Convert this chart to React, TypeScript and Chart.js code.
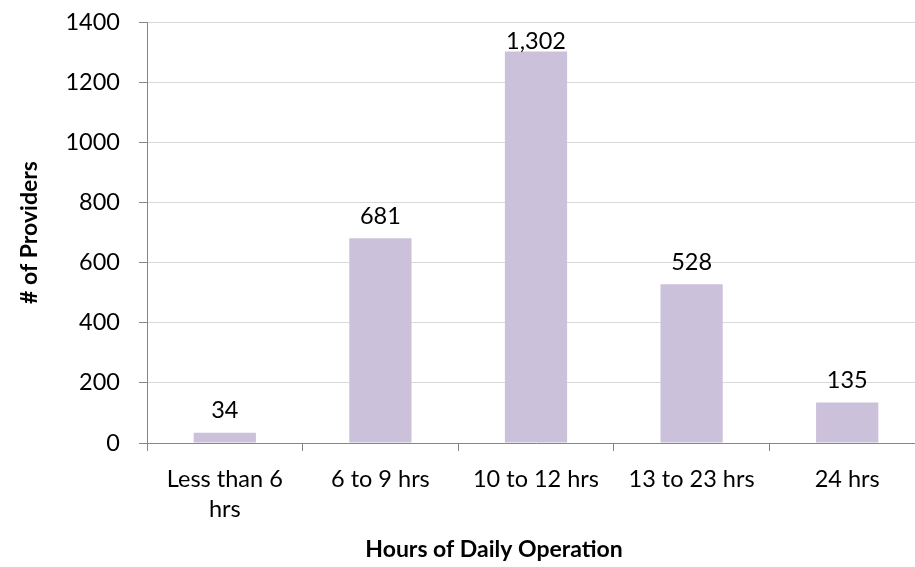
import React, { useEffect, useRef } from 'react';
import { Chart, registerables } from 'chart.js';

Chart.register(...registerables);

const categories: (string | string[])[] = [['Less than 6', 'hrs'], '6 to 9 hrs', '10 to 12 hrs', '13 to 23 hrs', '24 hrs'];
const providers = [34, 681, 1302, 528, 135];
const yMin = 0;
const yMax = 1400;
const yStep = 200;
const yTitle = '# of Providers';
const xTitle = 'Hours of Daily Operation';

const FONT = 'Lato, "Open Sans", sans-serif';
const TICK_SIZE = 23.5;
const TITLE_SIZE = 23;

const dataLabels = {
  id: 'dataLabels',
  afterDatasetsDraw(chart: any) {
    const { ctx, chartArea } = chart;
    const meta = chart.getDatasetMeta(0);
    ctx.save();
    ctx.font = `${TICK_SIZE}px ${FONT}`;
    ctx.fillStyle = '#000';
    ctx.textAlign = 'center';
    ctx.textBaseline = 'middle';
    meta.data.forEach((bar: any, i: number) => {
      const y = Math.max(bar.y - 22, chartArea.top + 19);
      ctx.fillText(providers[i].toLocaleString('en-US'), bar.x, y);
    });
    ctx.restore();
  },
};

const xTitlePlugin = {
  id: 'xTitlePlugin',
  afterDraw(chart: any) {
    const { ctx, chartArea } = chart;
    ctx.save();
    ctx.font = `bold ${TITLE_SIZE}px ${FONT}`;
    ctx.fillStyle = '#000';
    ctx.textAlign = 'center';
    ctx.textBaseline = 'middle';
    ctx.fillText(xTitle, 494, chartArea.bottom + 107);
    ctx.restore();
  },
};

export default function App() {
  const ref = useRef<HTMLCanvasElement | null>(null);
  useEffect(() => {
    if (!ref.current) return;
    const chart = new Chart(ref.current, {
      type: 'bar',
      data: {
        labels: categories,
        datasets: [
          {
            data: providers,
            backgroundColor: '#CCC1DA',
            borderWidth: 0,
            categoryPercentage: 1,
            barPercentage: 0.4,
          },
        ],
      },
      options: {
        responsive: false,
        animation: false,
        devicePixelRatio: 1,
        layout: { padding: { top: 22, left: 0, right: 0, bottom: 0 } },
        plugins: { legend: { display: false }, tooltip: { enabled: false } },
        scales: {
          x: {
            grid: { drawOnChartArea: false, drawTicks: true, tickLength: 8, color: '#868686', offset: true },
            border: { color: '#868686' },
            ticks: { font: { family: FONT, size: TICK_SIZE, lineHeight: 1.25 }, color: '#000', padding: 14, maxRotation: 0, autoSkip: false },
            afterFit: (s: any) => { s.height = 124; s.paddingLeft = 0; s.paddingRight = 0; },
          },
          y: {
            min: yMin,
            max: yMax,
            ticks: { stepSize: yStep, font: { family: FONT, size: TICK_SIZE }, color: '#000', padding: 19, callback: (v: any) => String(v) },
            grid: { color: '#D9D9D9', tickColor: '#868686', tickLength: 8 },
            border: { color: '#868686' },
            title: { display: true, text: yTitle, font: { family: FONT, size: TITLE_SIZE, weight: 'bold' }, color: '#000', padding: { top: 16, bottom: 0 } },
            afterFit: (s: any) => { s.width = 147; s.paddingTop = 0; s.paddingBottom = 0; },
          },
        },
      },
      plugins: [dataLabels, xTitlePlugin],
    });
    return () => chart.destroy();
  }, []);
  return (
    <div style={{ position: 'fixed', left: 0, top: 0, width: 915, height: 567, overflow: 'hidden', background: '#fff' }}>
      <canvas ref={ref} width={925} height={567} style={{ width: 925, height: 567, display: 'block' }} />
    </div>
  );
}
